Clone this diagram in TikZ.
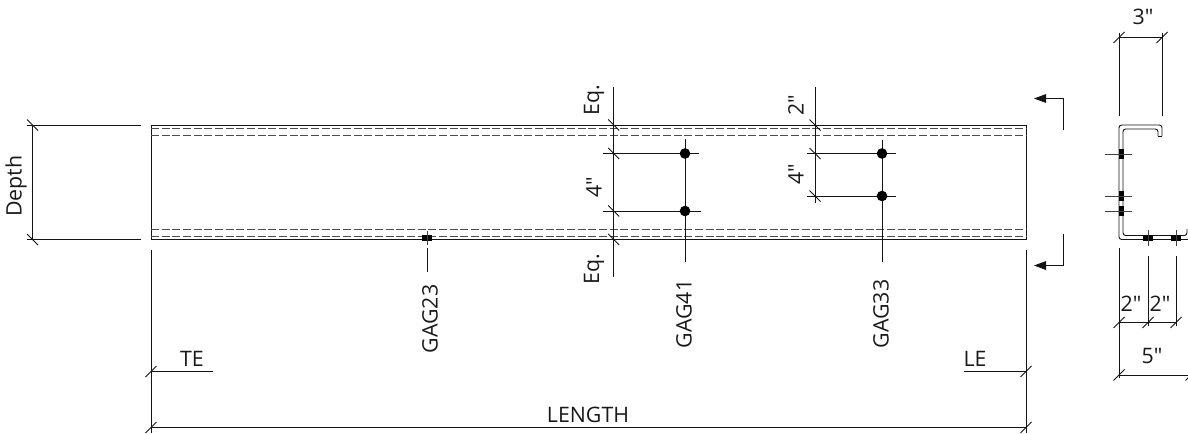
\documentclass[tikz,border=0pt]{standalone}
\usepackage{fontspec}
\newfontfamily\labfont{Open Sans}
\usetikzlibrary{arrows.meta}
\tikzset{
  ln/.style={line width=0.72pt,draw=black!92},
  thin ln/.style={line width=0.65pt,draw=black!75},
  hid/.style={line width=0.72pt,draw=black!70,dash pattern=on 6pt off 2pt},
  lab/.style={font=\labfont\fontsize{16pt}{18pt}\selectfont,inner sep=0pt,text=black!90},
  vlab/.style={lab,rotate=90},
  bolt/.style={fill=black,draw=none},
}
\newcommand{\tickB}[2]{\draw[ln] (#1-5.5,#2-5.5) -- (#1+5.5,#2+5.5);}
\newcommand{\tickF}[2]{\draw[ln] (#1-5.5,#2+5.5) -- (#1+5.5,#2-5.5);}
\begin{document}
\begin{tikzpicture}[x=0.75pt,y=-0.75pt]
\useasboundingbox (0,0) rectangle (1188,433);
\begin{scope}
\clip (0,0) rectangle (1188,433);
% beam
\draw[ln] (151,125) rectangle (1026,239.5);
\foreach \y in {128.5,135.5,229,236} \draw[hid] (151,\y) -- (1026,\y);
% depth dimension
\draw[ln] (27,125) -- (141,125);
\draw[ln] (27,239.5) -- (141,239.5);
\draw[ln] (32.5,125) -- (32.5,239.5);
\tickB{32.5}{125}\tickB{32.5}{239.5}
\node[vlab] (depth) at (16,186) {Depth};
% extension lines
\draw[ln] (151,250) -- (151,433);
\draw[ln] (1026,250) -- (1026,433);
\draw[ln] (151,371.5) -- (213,371.5);
\draw[ln] (964,371.5) -- (1026,371.5);
\draw[ln] (151,427.5) -- (1026,427.5);
\tickF{151}{371.5}\tickF{1026}{371.5}\tickF{151}{427.5}\tickF{1026}{427.5}
\node[lab] (te) at (192,359) {TE};
\node[lab] (le) at (975,359) {LE};
\node[lab] (length) at (588,415) {LENGTH};
% GAG23
\fill[bolt] (422,235) rectangle (432,240.5);
\draw[thin ln] (427,231) -- (427,245);
\draw[ln] (427,248) -- (427,272);
\node[vlab] (g23) at (430,319) {GAG23};
% GAG41 group
\draw[ln] (613.7,87) -- (613.7,277);
\draw[ln] (603,153.5) -- (699,153.5);
\draw[ln] (603,211) -- (701,211);
\draw[ln] (685,139) -- (685,262);
\fill[bolt] (685,153.5) circle (5.3);
\fill[bolt] (685,211) circle (5.3);
\tickB{613.7}{125}\tickB{613.7}{153.5}\tickB{613.7}{211}\tickB{613.7}{239.5}
\node[vlab] (eqa) at (594,100) {Eq.};
\node[vlab] (four) at (594,187) {4"};
\node[vlab] (eqb) at (594,269) {Eq.};
\node[vlab] (g41) at (684,314) {GAG41};
% GAG33 group
\draw[ln] (815,87) -- (815,203);
\draw[ln] (807,153.5) -- (896,153.5);
\draw[ln] (807,196) -- (896,196);
\draw[ln] (882,139.5) -- (882,262);
\fill[bolt] (882,153.5) circle (5.3);
\fill[bolt] (882,196) circle (5.3);
\tickB{815}{125}\tickB{815}{153.5}\tickB{815}{196}
\node[vlab] (two) at (796,105) {2"};
\node[vlab] (fourb) at (796,174) {4"};
\node[vlab] (g33) at (881,314) {GAG33};
% section arrows
\draw[ln,-{Triangle[length=9pt,width=6.5pt]}] (1063.5,130) -- (1063.5,98.5) -- (1034,98.5);
\draw[ln,-{Triangle[length=9pt,width=6.5pt]}] (1063.5,234) -- (1063.5,265.5) -- (1034,265.5);
% channel section
\draw[ln] (1162,136) [rounded corners=2pt] -- (1162,125) -- (1119,125) -- (1119,239.5) -- (1191,239.5);
\draw[ln] (1158,136) [rounded corners=2pt] -- (1158,129) -- (1123,129) -- (1123,235.5) -- (1187,235.5) -- (1187,229);
\draw[ln] (1158,136) -- (1162,136);
\foreach \y in {154,196,211} {
  \fill[bolt] (1119,\y-5) rectangle (1123.5,\y+5);
  \draw[thin ln] (1105,\y) -- (1132,\y);
}
\foreach \x in {1148,1176} {
  \fill[bolt] (\x-5,235) rectangle (\x+5,240.5);
  \draw[thin ln] (\x,230) -- (\x,246);
}
% 3 inch dimension
\draw[ln] (1119,33) -- (1119,116);
\draw[ln] (1162,33) -- (1162,116);
\draw[ln] (1119,37.5) -- (1162,37.5);
\tickF{1119}{37.5}\tickF{1162}{37.5}
\node[lab] (three) at (1143,17) {3"};
% 2 inch and 5 inch dimensions
\draw[ln] (1119,248) -- (1119,378);
\draw[ln] (1148,256) -- (1148,326);
\draw[ln] (1176,256) -- (1176,326);
\draw[ln] (1119,322.5) -- (1176,322.5);
\draw[ln] (1119,375) -- (1190,375);
\tickF{1119}{322.5}\tickF{1148}{322.5}\tickF{1176}{322.5}
\tickF{1119}{375}\tickF{1191}{375}
\node[lab] (twoa) at (1131,304) {2"};
\node[lab] (twob) at (1160,304) {2"};
\node[lab] (five) at (1152,356) {5"};
\end{scope}
\end{tikzpicture}
\end{document}
